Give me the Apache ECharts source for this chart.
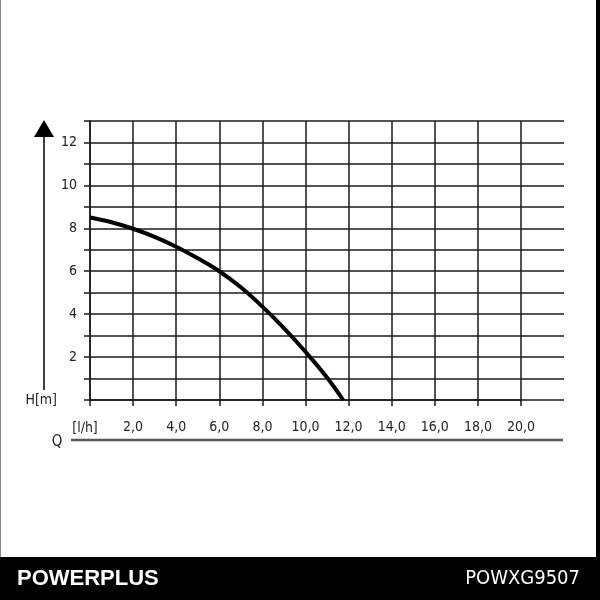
<!DOCTYPE html>
<html>
<head>
<meta charset="utf-8">
<script src="https://cdn.jsdelivr.net/npm/echarts@6/dist/echarts.min.js"></script>
<style>html,body{margin:0;padding:0;background:#fff}#c{width:600px;height:600px}</style>
</head>
<body>
<div id="c"></div>
<script>
// Data
const flow = [0, 1, 2, 3, 4, 5, 6, 7, 8, 9, 10, 11, 11.75];
const head = [8.5, 8.28, 7.98, 7.6, 7.14, 6.6, 6.0, 5.25, 4.35, 3.35, 2.25, 1.05, 0];
const yTickLabels = ['2', '4', '6', '8', '10', '12'];
const xTickLabels = ['2,0', '4,0', '6,0', '8,0', '10,0', '12,0', '14,0', '16,0', '18,0', '20,0'];
const brand = 'POWERPLUS';
const model = 'POWXG9507';

const FONT = '"DejaVu Sans Condensed", "Liberation Sans", Arial, sans-serif';
const LINE = '#1a1a1a';

const chart = echarts.init(document.getElementById('c'), null, {renderer: 'canvas'});
chart.setOption({
  animation: false,
  backgroundColor: '#fff',
  grid: [
    {left: 90, right: 36, top: 121, bottom: 200},
    {left: 90, right: 79, top: 121, bottom: 200}
  ],
  xAxis: [
    {gridIndex: 0, type: 'value', min: 0, max: 22, show: false},
    {
      gridIndex: 1, type: 'value', min: 0, max: 20, interval: 2,
      axisLine: {show: true, lineStyle: {color: LINE, width: 1.5}},
      axisTick: {show: true, length: 6, lineStyle: {color: LINE, width: 1.5}},
      splitLine: {show: true, lineStyle: {color: LINE, width: 1.5}},
      axisLabel: {
        margin: 20, color: '#222', fontFamily: FONT, fontSize: 14,
        formatter: v => (v === 0 ? '' : (xTickLabels[v / 2 - 1] || ''))
      }
    }
  ],
  yAxis: [
    {
      gridIndex: 0, type: 'value', min: 0, max: 13, interval: 1,
      axisLine: {show: true, lineStyle: {color: LINE, width: 1.5}},
      axisTick: {show: true, length: 6, lineStyle: {color: LINE, width: 1.5}},
      splitLine: {show: true, lineStyle: {color: LINE, width: 1.5}},
      axisLabel: {
        margin: 13, color: '#222', fontFamily: FONT, fontSize: 14,
        formatter: v => (v > 0 && v % 2 === 0 ? (yTickLabels[v / 2 - 1] || '') : '')
      }
    },
    {gridIndex: 1, type: 'value', min: 0, max: 13, show: false}
  ],
  series: [{
    type: 'line',
    xAxisIndex: 0, yAxisIndex: 0,
    data: flow.map((f, i) => [f, head[i]]),
    smooth: 0.4,
    showSymbol: false,
    lineStyle: {color: '#000', width: 4},
    z: 5
  }],
  graphic: [
    // frame
    {type: 'line', shape: {x1: 0.5, y1: 0, x2: 0.5, y2: 600}, style: {stroke: '#888', lineWidth: 1}},
    {type: 'rect', shape: {x: 596, y: 0, width: 4, height: 600}, style: {fill: '#000'}},
    // H axis arrow
    {type: 'line', shape: {x1: 44, y1: 136, x2: 44, y2: 390}, style: {stroke: '#000', lineWidth: 1.5}},
    {type: 'polygon', shape: {points: [[44, 120], [34, 137], [54, 137]]}, style: {fill: '#000'}},
    {type: 'text', x: 57, y: 400, style: {text: 'H[m]', font: '14px ' + FONT, fill: '#222', align: 'right', verticalAlign: 'middle'}},
    // Q axis
    {type: 'text', x: 85, y: 428, style: {text: '[l/h]', font: '14px ' + FONT, fill: '#222', align: 'center', verticalAlign: 'middle'}},
    {type: 'text', x: 57, y: 442, style: {text: 'Q', font: '15px ' + FONT, fill: '#222', align: 'center', verticalAlign: 'middle'}},
    {type: 'line', shape: {x1: 71, y1: 440, x2: 563, y2: 440}, style: {stroke: '#555', lineWidth: 2.5}},
    // banner
    {type: 'rect', shape: {x: 0, y: 557, width: 600, height: 43}, style: {fill: '#000'}},
    {type: 'text', x: 17, y: 579, style: {text: brand, font: 'bold 22px "Liberation Sans", Arial, sans-serif', fill: '#fff', align: 'left', verticalAlign: 'middle'}},
    {type: 'text', x: 580, y: 579, style: {text: model, font: '20px ' + FONT, fill: '#fff', align: 'right', verticalAlign: 'middle'}}
  ]
});
</script>
</body>
</html>
